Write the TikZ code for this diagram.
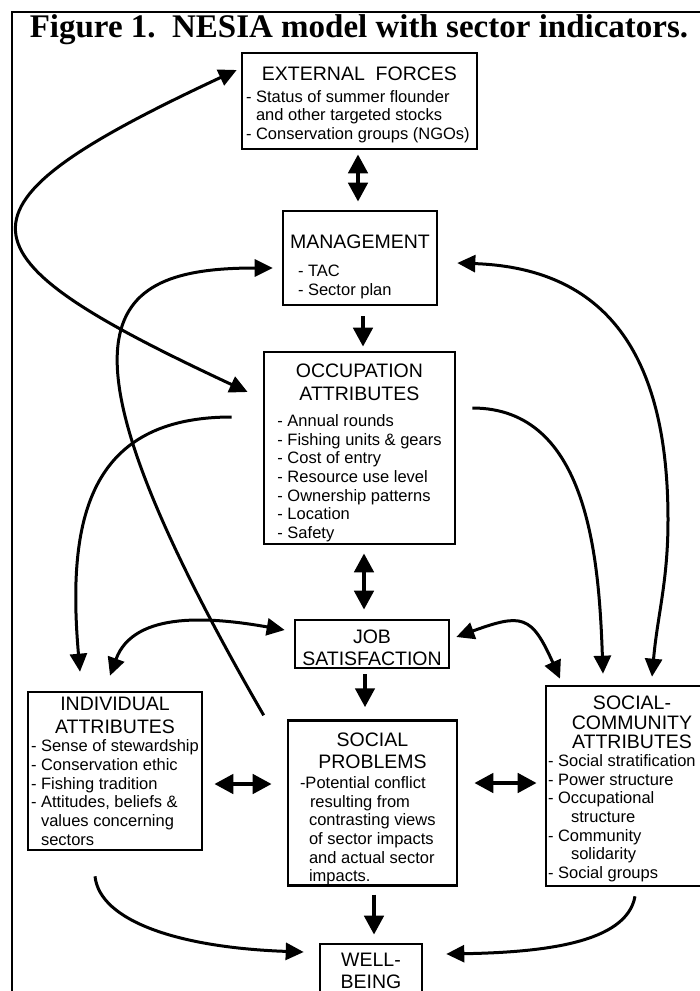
\documentclass[tikz,border=0pt]{standalone}
\usepackage{fontspec}
\setmainfont{Liberation Serif}
\setsansfont{Liberation Sans}
\usetikzlibrary{arrows.meta, calc}
\newcommand{\headfont}{\fontsize{19.5}{22}\selectfont}
\newcommand{\entryfont}{\fontsize{16.5}{18.7}\selectfont}
\newcommand{\boxhead}[2]{\makebox[#1]{\headfont #2}}
\newcommand{\toppad}[1]{\rule{0pt}{#1}}
\tikzset{
    sectorbox/.style={
        rectangle, draw=black, line width=2.6pt,
        font=\sffamily\entryfont, align=left, inner ysep=0pt
    },
    flowarrow/.style={
        -{Triangle[length=19pt, width=19pt]}, line width=4.5pt
    },
    flowboth/.style={
        {Triangle[length=19pt, width=19pt]}-{Triangle[length=19pt, width=19pt]}, line width=4.5pt
    },
    linkarrow/.style={
        -{Triangle[length=18pt, width=17pt]}, line width=3pt
    },
    linkboth/.style={
        {Triangle[length=18pt, width=17pt]}-{Triangle[length=18pt, width=17pt]}, line width=3pt
    },
}
\begin{document}
\begin{tikzpicture}[x=1pt, y=1pt]
    \useasboundingbox (0,0) rectangle (700,-991);
    \clip (0,0) rectangle (700,-991);

    % Frame and title
    \draw[line width=2.4pt] (12,-1000) -- (12,-12) -- (710,-12);
    \node[font=\fontsize{33}{36}\selectfont\bfseries, anchor=base] (title) at (359,-37) {Figure 1.\ \ NESIA model with sector indicators.};

    % Central column
    \node[sectorbox, minimum width=235pt, minimum height=96pt, inner xsep=4pt] (ext) at (359.5,-101) {\toppad{21.5pt}\boxhead{227pt}{EXTERNAL\ \ FORCES}\\[3pt]- Status of summer flounder\\\hspace*{10pt}and other targeted stocks\\- Conservation groups (NGOs)};
    \node[sectorbox, minimum width=154pt, minimum height=94pt, inner xsep=15pt] (mgmt) at (360,-258) {\toppad{31.5pt}\boxhead{124pt}{MANAGEMENT}\\[9pt]- TAC\\- Sector plan};
    \node[sectorbox, minimum width=191pt, minimum height=192pt, inner xsep=13.5pt] (occ) at (359.5,-448) {\toppad{23.5pt}\boxhead{164pt}{OCCUPATION}\\[4.3pt]\boxhead{164pt}{ATTRIBUTES}\\[7.3pt]- Annual rounds\\- Fishing units \& gears\\- Cost of entry\\- Resource use level\\- Ownership patterns\\- Location\\- Safety};
    \node[sectorbox, minimum width=154pt, minimum height=48pt, inner xsep=2pt] (job) at (372,-644) {\toppad{21.5pt}\boxhead{150pt}{JOB}\\[3.5pt]\boxhead{150pt}{SATISFACTION}};
    \node[sectorbox, minimum width=169pt, minimum height=162pt, inner xsep=12pt] (socp) at (372.5,-803) {\toppad{25.5pt}\boxhead{145pt}{SOCIAL}\\[4pt]\boxhead{145pt}{PROBLEMS}\\[1pt]-Potential conflict\\\hspace*{10pt}resulting from\\\hspace*{9pt}contrasting views\\\hspace*{9pt}of sector impacts\\\hspace*{9pt}and actual sector\\\hspace*{9pt}impacts.};
    \node[sectorbox, minimum width=102pt, minimum height=54pt, inner xsep=2pt] (wb) at (371,-971) {\boxhead{98pt}{WELL-}\\[3.5pt]\boxhead{98pt}{BEING}};

    % Side boxes
    \node[sectorbox, minimum width=174pt, minimum height=158pt, inner xsep=3pt] (indiv) at (115,-771) {\boxhead{168pt}{INDIVIDUAL}\\[4.3pt]\boxhead{168pt}{ATTRIBUTES}\\- Sense of stewardship\\- Conservation ethic\\- Fishing tradition\\- Attitudes, beliefs \&\\\hspace*{10pt}values concerning\\\hspace*{10pt}sectors};
    \node[sectorbox, minimum width=172pt, minimum height=200pt, inner xsep=2pt] (soco) at (632,-786) {\toppad{19.5pt}\boxhead{168pt}{SOCIAL-}\\[1pt]\boxhead{168pt}{COMMUNITY}\\[1pt]\boxhead{168pt}{ATTRIBUTES}\\[-1pt]- Social stratification\\- Power structure\\- Occupational\\\hspace*{23pt}structure\\- Community\\\hspace*{23pt}solidarity\\- Social groups};

    % Straight arrows down the middle
    \draw[flowboth] ($(ext.south)+(-1.5,-4)$) -- ($(mgmt.north)+(-2,8)$);
    \draw[flowarrow] ($(mgmt.south)+(3,-10)$) -- ($(occ.north)+(3.5,4)$);
    \draw[flowboth] ($(occ.south)+(4.5,-8)$) -- ($(job.north)+(-8,9)$);
    \draw[flowarrow] ($(job.south)+(-7,-5)$) -- ($(socp.north)+(-7.5,12)$);
    \draw[flowarrow] ($(socp.south)+(1.5,-8)$) -- ($(wb.north)+(3,8)$);
    \draw[flowboth] ($(indiv.east)+(11,-13)$) -- ($(socp.west)+(-15,19)$);
    \draw[flowboth] ($(socp.east)+(16,20)$) -- ($(soco.west)+(-8,3)$);

    % Curved links
    \coordinate (rbend) at (668,-520);
    \draw[linkboth] ($(ext.west)+(-4,31)$) to[out=205, in=155, looseness=2.6] ($(occ.west)+(-15,56)$);
    \draw[linkarrow] ($(socp.north west)+(-23,4)$) .. controls +(120:450) and +(180:170) .. ($(mgmt.west)+(-9,-10)$);
    \draw[linkarrow] ($(occ.west)+(-31,31)$) .. controls +(180:143) and +(95:153) .. ($(indiv.north)+(-35,19)$);
    \draw[linkboth] ($(indiv.north)+(-5,15)$) to[out=70, in=170] ($(job.west)+(-9,14)$);
    \draw[linkboth] ($(job.east)+(6,7)$) to[out=20, in=114, looseness=1.6] ($(soco.north)+(-72,6)$);
    \draw[linkarrow] ($(occ.east)+(16,40)$) to[out=0, in=92] ($(soco.north)+(-29,11)$);
    \draw[linkboth] ($(mgmt.east)+(19,-5)$) to[out=-2, in=90, looseness=1.2] (rbend) to[out=-90, in=85] ($(soco.north)+(20,8)$);

    % Into well-being
    \draw[linkarrow] ($(indiv.south)+(-20,-25)$) .. controls +(-84:45) and +(178:125) .. ($(wb.west)+(-15,19)$);
    \draw[linkarrow] ($(soco.south)+(3,-9)$) .. controls +(260:48) and +(1:95) .. ($(wb.east)+(23,17)$);

\end{tikzpicture}
\end{document}
